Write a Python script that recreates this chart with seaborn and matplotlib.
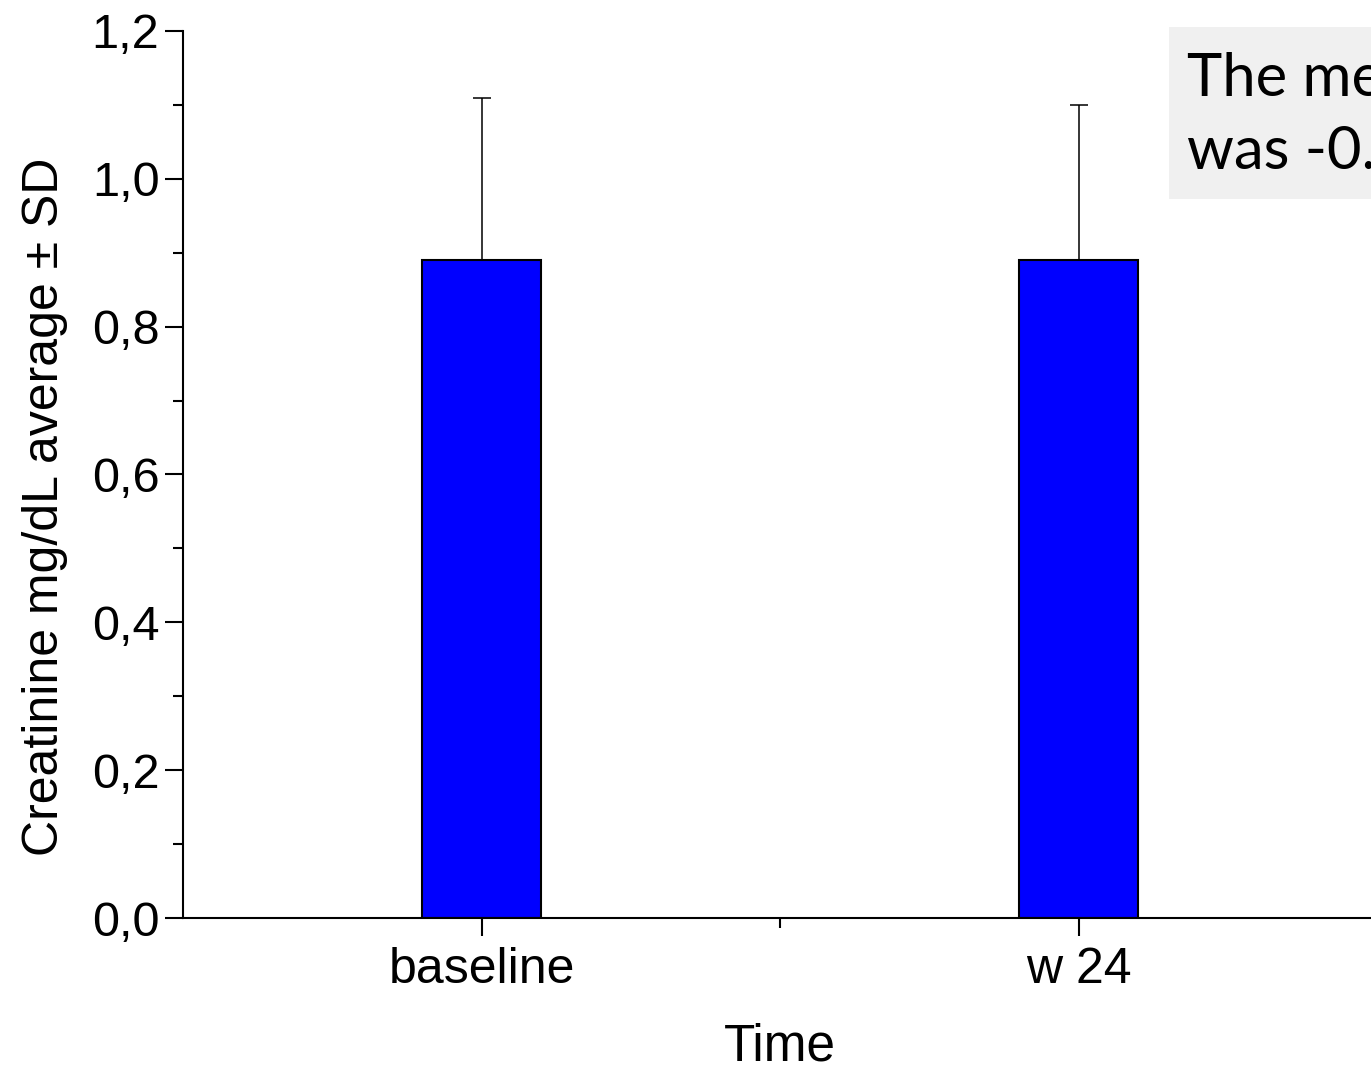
import numpy as np
import pandas as pd
import matplotlib
matplotlib.use("Agg")
import matplotlib.pyplot as plt
from matplotlib.patches import Rectangle
from matplotlib.ticker import FuncFormatter, MultipleLocator
import seaborn as sns

# Data
categories = ["baseline", "w 24"]
means = [0.89, 0.89]
sds = [0.22, 0.21]
note_lines = ["The mean change", "was -0.00 mg/dL"]

sns.set_style("ticks")
plt.rcParams["font.family"] = ["Liberation Sans", "DejaVu Sans"]
plt.rcParams["text.color"] = "black"
plt.rcParams["axes.labelcolor"] = "black"
plt.rcParams["xtick.color"] = "black"
plt.rcParams["ytick.color"] = "black"

W, H = 1371, 1074
fig = plt.figure(figsize=(W / 100, H / 100), dpi=100)
ax = fig.add_axes([183 / W, (H - 918) / H, 1194 / W, (918 - 31) / H])

df = pd.DataFrame({"Time": categories, "value": means})
sns.barplot(data=df, x="Time", y="value", color="#0000ff", saturation=1,
            width=0.2, edgecolor="black", linewidth=1.5, errorbar=None, ax=ax)
ax.errorbar(x=np.arange(len(categories)), y=means, yerr=[[0] * len(sds), sds],
            fmt="none", ecolor="black", elinewidth=1.1, capsize=6.5, capthick=1.1,
            zorder=1)

ax.set_xlim(-0.5, 1.5)
ax.set_ylim(0, 1.2)
ax.yaxis.set_major_locator(MultipleLocator(0.2))
ax.yaxis.set_minor_locator(MultipleLocator(0.1))
ax.yaxis.set_major_formatter(FuncFormatter(lambda v, p: f"{v:.1f}".replace(".", ",")))
ax.set_xticks([0.5], minor=True)

for s in ["top", "right"]:
    ax.spines[s].set_visible(False)
for s in ["left", "bottom"]:
    ax.spines[s].set_linewidth(1.5)
    ax.spines[s].set_color("black")

ax.tick_params(axis="both", which="major", length=13, width=1.5, color="black",
               labelsize=35, labelcolor="black", direction="out")
ax.tick_params(axis="x", which="major", labelsize=36, pad=8)
ax.tick_params(axis="both", which="minor", length=7.5, width=1.5, color="black",
               direction="out")
ax.tick_params(axis="y", which="major", pad=4)

ax.set_xlabel("Time", fontsize=37, labelpad=21)
ax.set_ylabel("Creatinine mg/dL average ± SD", fontsize=36)
ax.yaxis.set_label_coords((68 - 183) / 1194, (918 - 507) / 887)

fig.add_artist(Rectangle((1169 / W, 1 - 199 / H), 0.3, 172 / H,
                         transform=fig.transFigure, facecolor="#f0f0f0",
                         edgecolor="none", zorder=5))
fig.text(1187 / W, 1 - 95 / H, note_lines[0], fontsize=43, family=["Lato", "DejaVu Sans"],
         va="baseline", ha="left", zorder=6)
fig.text(1187 / W, 1 - 168 / H, note_lines[1], fontsize=43, family=["Lato", "DejaVu Sans"],
         va="baseline", ha="left", zorder=6)

fig.savefig("out.png", dpi=100)
